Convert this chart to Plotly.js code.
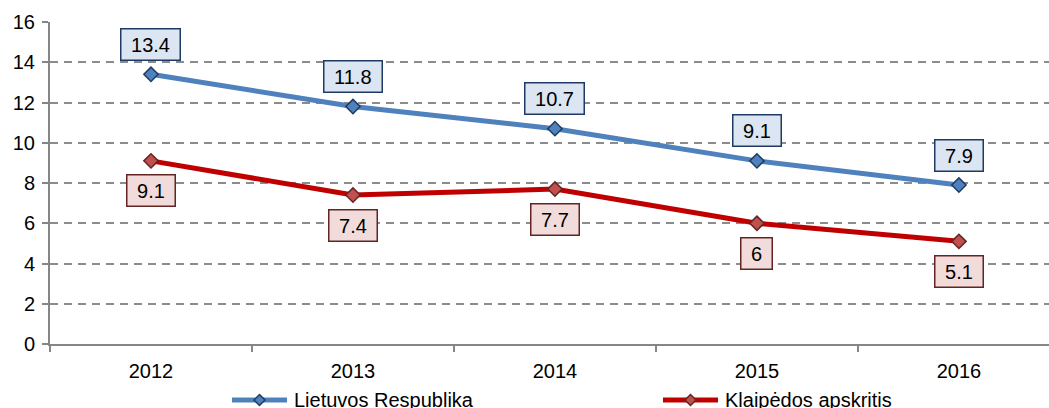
<!DOCTYPE html>
<html>
<head>
<meta charset="utf-8">
<script src="https://cdn.plot.ly/plotly-3.0.1.min.js"></script>
<style>html,body{margin:0;padding:0;background:#fff;overflow:hidden;} #chart{width:1049px;height:408px;}</style>
</head>
<body>
<div id="chart"></div>
<script>
const years = ["2012", "2013", "2014", "2015", "2016"];
const lietuva = [13.4, 11.8, 10.7, 9.1, 7.9];
const klaipeda = [9.1, 7.4, 7.7, 6, 5.1];
const seriesNames = ["Lietuvos Respublika", "Klaipėdos apskritis"];

const FONT = "Liberation Sans, Arial, sans-serif";
const NB = "\u00a0";
const colors = [
  {line: "#4f81bd", mfill: "#4f81bd", mline: "#1f3b63", bg: "#dce6f2", border: "#1f3b63", shift: 30},
  {line: "#c00000", mfill: "#c0504d", mline: "#632523", bg: "#f2dcdb", border: "#632523", shift: -30}
];
const seriesVals = [lietuva, klaipeda];

const traces = seriesVals.map((vals, s) => ({
  x: years, y: vals, name: seriesNames[s], type: "scatter", mode: "lines+markers",
  showlegend: false,
  line: {color: colors[s].line, width: 5},
  marker: {symbol: "diamond", size: 11, color: colors[s].mfill, line: {color: colors[s].mline, width: 1.5}}
}));

const annotations = [];
const shapes = [];
seriesVals.forEach((vals, s) => {
  years.forEach((yr, i) => {
    annotations.push({
      x: i, y: vals[i], xref: "x", yref: "y", text: NB + String(vals[i]) + NB,
      showarrow: false, yshift: colors[s].shift,
      font: {family: FONT, size: 20, color: "#000"},
      bgcolor: colors[s].bg, bordercolor: colors[s].border, borderwidth: 1.5, borderpad: 4
    });
  });
});

// custom legend (paper coords; plot area is 999 x 322 px, origin at (50, 344))
const PW = 999, PH = 322;
const legendItems = [{x0: 232, x1: 287}, {x0: 663, x1: 718}];
const legY = 400;
legendItems.forEach((it, s) => {
  const yp = (344 - legY) / PH;
  shapes.push({type: "line", xref: "paper", yref: "paper",
    x0: (it.x0 - 50) / PW, x1: (it.x1 - 50) / PW, y0: yp, y1: yp,
    line: {color: colors[s].line, width: 5}});
  const cx = (it.x0 + it.x1) / 2, r = 5.5;
  const px = v => (v - 50) / PW, py = v => (344 - v) / PH;
  shapes.push({type: "path", xref: "paper", yref: "paper",
    path: `M ${px(cx)} ${py(legY - r)} L ${px(cx + r)} ${py(legY)} L ${px(cx)} ${py(legY + r)} L ${px(cx - r)} ${py(legY)} Z`,
    fillcolor: colors[s].mfill, line: {color: colors[s].mline, width: 1.5}});
  annotations.push({xref: "paper", yref: "paper", x: (it.x1 + 5 - 50) / PW, y: yp,
    xanchor: "left", yanchor: "middle", text: seriesNames[s], showarrow: false,
    font: {family: FONT, size: 20, color: "#000"}});
});

const layout = {
  width: 1049, height: 408,
  margin: {l: 50, r: 0, t: 22, b: 64},
  paper_bgcolor: "#fff", plot_bgcolor: "#fff",
  font: {family: FONT, size: 20, color: "#000"},
  xaxis: {
    type: "category", range: [-0.5, 4.446],
    showline: true, linecolor: "#868686", linewidth: 2,
    ticks: "outside", tickson: "boundaries", ticklen: 6, tickcolor: "#868686", tickwidth: 2,
    showgrid: false, zeroline: false, ticklabelstandoff: 8,
    tickfont: {family: FONT, size: 20, color: "#000"}
  },
  yaxis: {
    range: [0, 16], dtick: 2, tick0: 0,
    showline: true, linecolor: "#868686", linewidth: 2,
    ticks: "outside", ticklen: 6, tickcolor: "#868686", tickwidth: 2,
    showgrid: true, gridcolor: "#8c8c8c", gridwidth: 2, griddash: "8px,6px",
    zeroline: false, ticklabelstandoff: 3,
    tickfont: {family: FONT, size: 20, color: "#000"}
  },
  showlegend: false,
  annotations: annotations,
  shapes: shapes
};

Plotly.newPlot("chart", traces, layout, {displayModeBar: false, staticPlot: true});
</script>
</body>
</html>
